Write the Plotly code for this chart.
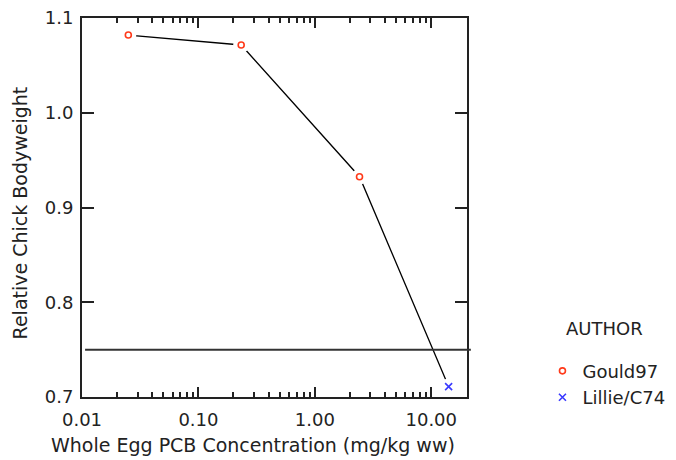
import plotly.graph_objects as go

# Data
gould_x = [0.025, 0.233, 2.42]
gould_y = [1.082, 1.0715, 0.9325]
lillie_x = [14.1]
lillie_y = [0.711]
ref_y = 0.75
x_tickvals = [0.01, 0.1, 1, 10]
x_ticktext = ["0.01", "0.10", "1.00", "10.00"]
y_tickvals = [0.7, 0.8, 0.9, 1.0, 1.1]
y_ticktext = ["0.7", "0.8", "0.9", "1.0", "1.1"]
minor_vals = [m * d for d in (0.01, 0.1, 1) for m in range(2, 10)]
x_title = "Whole Egg PCB Concentration (mg/kg ww)"
y_title = "Relative Chick Bodyweight"

FONT = "DejaVu Sans, Verdana, sans-serif"

line_x = gould_x + lillie_x
line_y = gould_y + lillie_y

fig = go.Figure()
# connecting line
fig.add_trace(go.Scatter(x=line_x, y=line_y, mode="lines",
                         line=dict(color="black", width=1.3),
                         showlegend=False, hoverinfo="skip"))
# white masks to create gaps around markers
fig.add_trace(go.Scatter(x=line_x, y=line_y, mode="markers",
                         marker=dict(symbol="circle", size=16, color="white",
                                     line=dict(width=0)),
                         showlegend=False, hoverinfo="skip"))
fig.add_trace(go.Scatter(x=gould_x, y=gould_y, mode="markers", name="Gould97",
                         marker=dict(symbol="circle-open", size=6, color="#ff3a1a",
                                     line=dict(width=1.6))))
fig.add_trace(go.Scatter(x=lillie_x, y=lillie_y, mode="markers", name="Lillie/C74",
                         marker=dict(symbol="x-thin-open", size=7, color="#3a3aff",
                                     line=dict(width=1.6))))

fig.add_shape(type="line", xref="paper", yref="y", x0=0.008, x1=1.01,
              y0=ref_y, y1=ref_y, line=dict(color="#333333", width=2))

fig.add_annotation(text="AUTHOR", xref="paper", yref="paper", x=1.357, y=0.182,
                   xanchor="center", yanchor="middle",
                   showarrow=False, font=dict(family=FONT, size=18, color="#222222"))
fig.add_annotation(text=x_title, xref="paper", yref="paper", x=0.4445, y=-0.1266,
                   xanchor="center", yanchor="middle",
                   showarrow=False, font=dict(family=FONT, size=19, color="#222222"))
fig.add_annotation(text=y_title, xref="paper", yref="paper", x=-0.1612, y=0.4868,
                   xanchor="center", yanchor="middle", textangle=-90,
                   showarrow=False, font=dict(family=FONT, size=19, color="#222222"))

# page body has an 8px margin, so the figure is 668x452 placed at (8, 8)
fig.update_layout(
    width=668, height=452,
    margin=dict(l=74, r=209, t=10, b=63, autoexpand=False),
    plot_bgcolor="white", paper_bgcolor="white",
    font=dict(family=FONT, size=18, color="#222222"),
    legend=dict(x=1.196, xanchor="left", y=0.117, yanchor="top",
                bgcolor="rgba(0,0,0,0)", font=dict(size=18),
                tracegroupgap=0),
    xaxis=dict(type="log", range=[-2, 1.307], automargin=False,
               tickvals=x_tickvals, ticktext=x_ticktext,
               ticks="inside", ticklen=10, tickwidth=1.5, tickcolor="#222222",
               showline=True, linecolor="#222222", linewidth=2, mirror="ticks",
               showgrid=False, zeroline=False, ticklabelstandoff=5,
               ticklabeloverflow="allow",
               minor=dict(tickvals=minor_vals, ticks="inside", ticklen=5,
                          tickwidth=1.5, tickcolor="#222222", showgrid=False)),
    yaxis=dict(range=[0.7, 1.1], automargin=False,
               tickvals=y_tickvals, ticktext=y_ticktext,
               ticks="inside", ticklen=12, tickwidth=2, tickcolor="#222222",
               showline=True, linecolor="#222222", linewidth=2, mirror="ticks",
               showgrid=False, zeroline=False, ticklabelstandoff=3,
               ticklabeloverflow="allow"),
)

fig.write_html("out.html")
